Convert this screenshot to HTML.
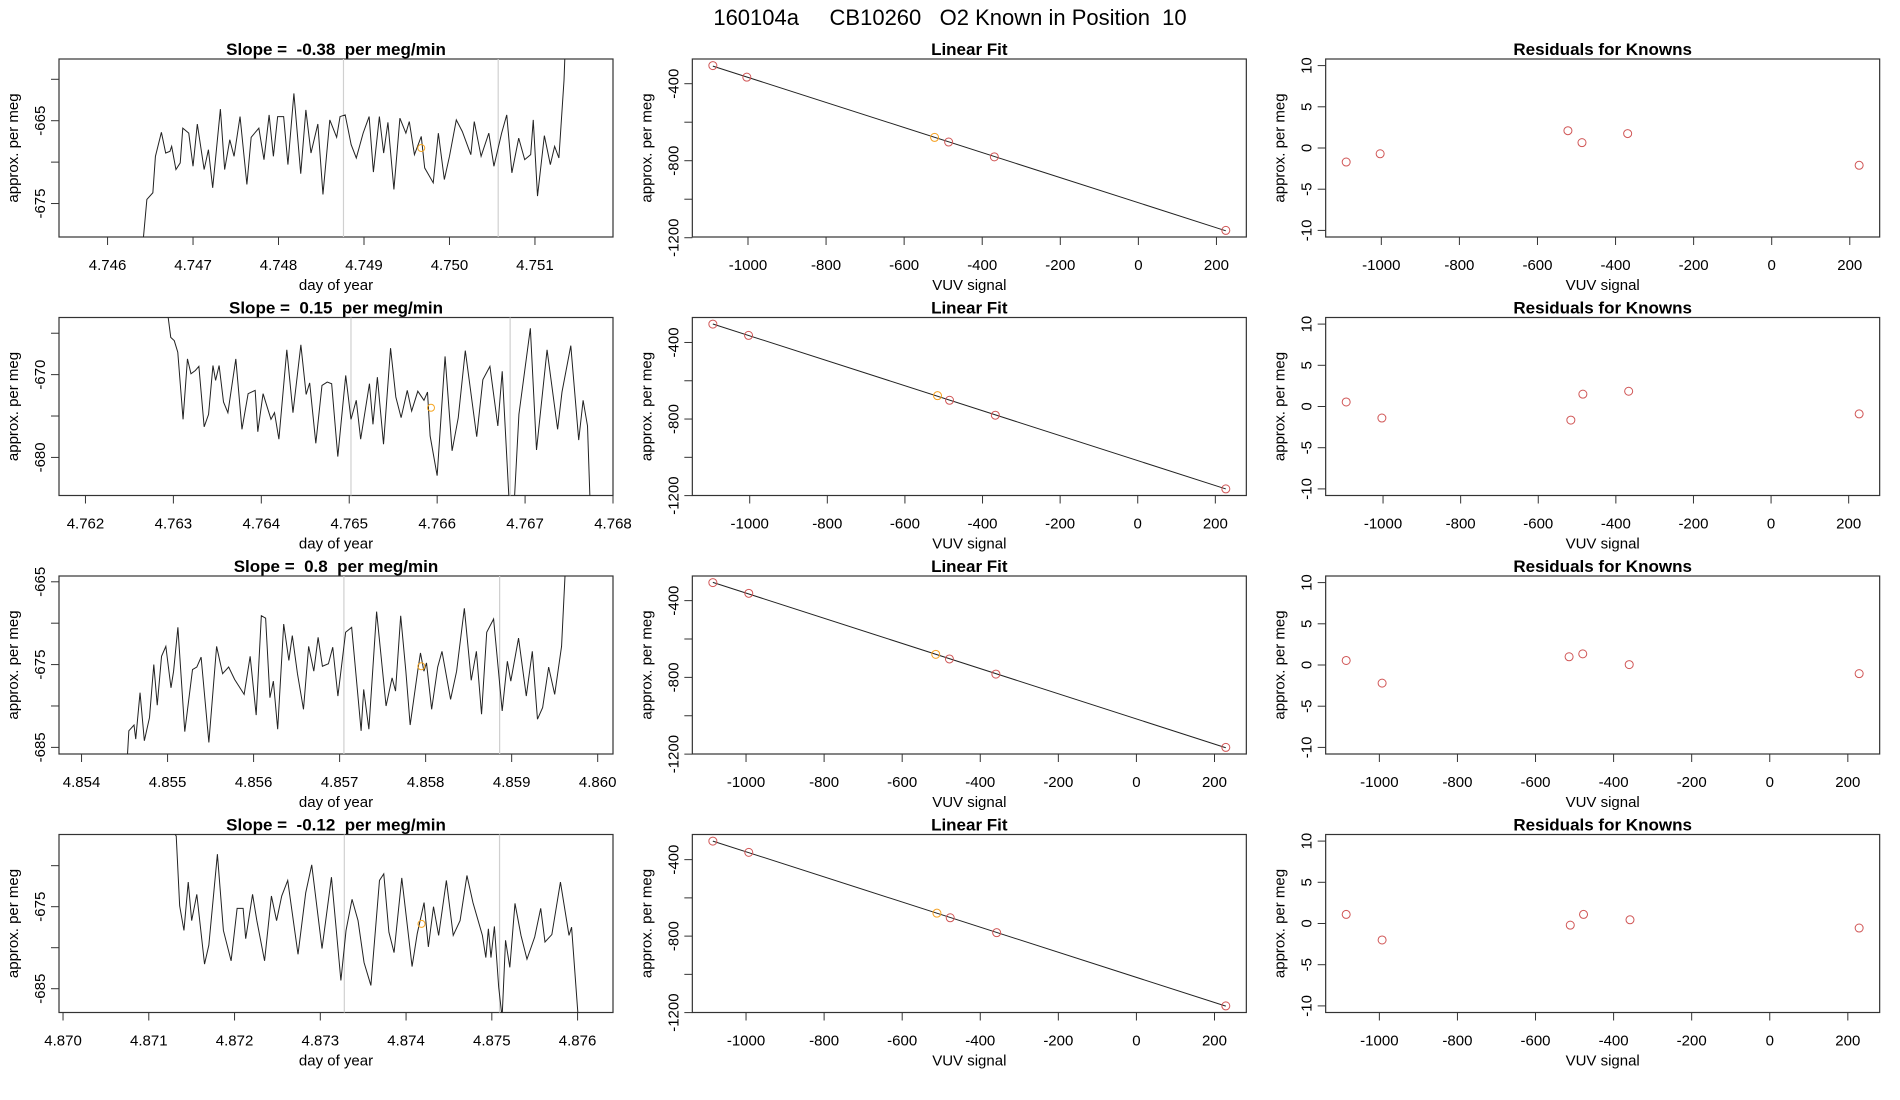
<!DOCTYPE html>
<html><head><meta charset="utf-8">
<style>
html,body{margin:0;padding:0;background:#fff;}
svg{display:block;font-family:"Liberation Sans",Arial,sans-serif;}
svg text{white-space:pre;}
</style></head>
<body>
<svg id="chart" width="1900" height="1100" viewBox="0 0 1900 1100" xmlns="http://www.w3.org/2000/svg" xml:space="preserve">
<text x="950" y="25" text-anchor="middle" font-size="22">160104a     CB10260   O2 Known in Position  10</text>
</svg>
<script>
// ---- Time series data (day of year, per meg) ----
const ts1Day=[4.74641,4.74646,4.74653,4.74656,4.74663,4.74668,4.74673,4.74675,4.74680,4.74685,4.74688,4.74695,4.74700,4.74705,4.74713,4.74718,4.74723,4.74732,4.74737,4.74743,4.74748,4.74755,4.74763,4.74768,4.74777,4.74783,4.74789,4.74794,4.74799,4.74806,4.74811,4.74818,4.74826,4.74832,4.74838,4.74846,4.74852,4.74860,4.74868,4.74872,4.74878,4.74885,4.74891,4.74899,4.74906,4.74911,4.74918,4.74923,4.74928,4.74935,4.74942,4.74949,4.74953,4.74959,4.74967,4.74971,4.74981,4.74987,4.74994,4.75000,4.75008,4.75015,4.75025,4.75029,4.75037,4.75046,4.75052,4.75061,4.75067,4.75073,4.75081,4.75088,4.75095,4.75098,4.75103,4.75111,4.75118,4.75123,4.75128,4.75134,4.75136];
const ts1Val=[-680.2,-674.5,-673.7,-669.3,-666.4,-668.9,-668.7,-668.1,-670.9,-670.1,-665.9,-666.5,-670.5,-665.4,-670.9,-668.5,-673.1,-663.6,-670.9,-667.3,-669.3,-664.5,-672.7,-667.0,-665.9,-669.7,-664.3,-669.3,-664.5,-664.5,-670.3,-661.7,-671.4,-663.7,-668.9,-665.4,-673.9,-664.9,-667.0,-664.5,-664.3,-667.9,-669.5,-666.5,-664.5,-671.2,-664.5,-668.9,-665.2,-673.3,-664.7,-666.5,-665.1,-669.1,-666.9,-670.7,-672.5,-666.5,-672.1,-669.3,-664.9,-666.3,-669.1,-665.1,-669.3,-666.5,-670.5,-666.5,-664.3,-671.3,-667.1,-669.7,-669.1,-664.9,-674.1,-666.8,-670.3,-668.1,-669.5,-660.1,-654.5];
const ts2Day=[4.76293,4.76297,4.76301,4.76305,4.76311,4.76316,4.76320,4.76325,4.76329,4.76335,4.76340,4.76345,4.76348,4.76352,4.76357,4.76362,4.76371,4.76378,4.76385,4.76393,4.76396,4.76402,4.76411,4.76415,4.76420,4.76429,4.76436,4.76445,4.76451,4.76455,4.76462,4.76469,4.76475,4.76480,4.76487,4.76496,4.76502,4.76508,4.76513,4.76523,4.76527,4.76532,4.76539,4.76547,4.76553,4.76559,4.76566,4.76571,4.76578,4.76585,4.76589,4.76592,4.76600,4.76609,4.76617,4.76624,4.76632,4.76645,4.76652,4.76660,4.76669,4.76674,4.76682,4.76688,4.76693,4.76706,4.76713,4.76725,4.76737,4.76742,4.76752,4.76761,4.76766,4.76771,4.76774];
const ts2Val=[-662.2,-665.5,-665.9,-667.3,-675.4,-668.1,-669.9,-669.5,-669.0,-676.3,-674.8,-668.9,-670.7,-668.9,-673.3,-674.6,-668.1,-676.6,-672.3,-671.9,-676.9,-672.3,-675.4,-674.6,-677.8,-667.0,-674.6,-666.4,-672.4,-671.0,-678.3,-671.3,-670.9,-671.1,-679.9,-670.1,-675.4,-673.1,-677.8,-671.1,-676.0,-670.3,-678.4,-666.8,-672.7,-675.2,-671.9,-674.4,-672.0,-673.1,-672.1,-677.4,-682.2,-667.8,-679.2,-675.2,-667.1,-677.5,-670.6,-669.0,-676.2,-669.6,-685.6,-684.8,-674.8,-664.4,-679.1,-667.0,-676.6,-672.1,-666.5,-677.9,-673.1,-676.2,-685.6];
const ts3Day=[4.85453,4.85455,4.85461,4.85463,4.85468,4.85473,4.85479,4.85484,4.85488,4.85493,4.85498,4.85504,4.85507,4.85512,4.85520,4.85529,4.85534,4.85539,4.85548,4.85557,4.85564,4.85571,4.85578,4.85589,4.85596,4.85603,4.85609,4.85614,4.85619,4.85623,4.85628,4.85635,4.85641,4.85645,4.85651,4.85658,4.85664,4.85670,4.85675,4.85680,4.85687,4.85692,4.85698,4.85707,4.85714,4.85725,4.85728,4.85734,4.85743,4.85754,4.85761,4.85765,4.85771,4.85777,4.85782,4.85791,4.85794,4.85798,4.85801,4.85807,4.85814,4.85819,4.85829,4.85836,4.85845,4.85853,4.85859,4.85865,4.85871,4.85879,4.85889,4.85895,4.85899,4.85908,4.85917,4.85924,4.85930,4.85936,4.85943,4.85950,4.85958,4.85962,4.85963];
const ts3Val=[-686.6,-683.0,-682.3,-684.0,-678.4,-684.2,-681.4,-675.0,-679.9,-674.0,-672.8,-677.8,-675.8,-670.5,-683.1,-675.6,-675.3,-674.1,-684.4,-672.8,-676.1,-675.3,-676.8,-678.6,-674.0,-681.1,-669.1,-669.4,-679.0,-677.0,-682.8,-670.1,-674.5,-671.5,-676.1,-680.4,-672.8,-675.8,-671.7,-675.2,-674.9,-672.9,-678.8,-671.1,-670.5,-683.0,-678.0,-682.8,-668.6,-680.0,-676.6,-678.2,-669.1,-675.8,-682.3,-675.6,-673.6,-675.8,-674.8,-680.4,-675.3,-673.4,-679.2,-675.8,-668.2,-676.9,-673.4,-681.0,-671.1,-669.5,-680.6,-674.6,-677.0,-671.8,-678.8,-673.4,-681.6,-680.2,-675.3,-678.6,-672.8,-664.3,-662.5];
const ts4Day=[4.87126,4.87132,4.87136,4.87141,4.87146,4.87150,4.87156,4.87165,4.87170,4.87180,4.87187,4.87196,4.87203,4.87210,4.87213,4.87221,4.87226,4.87235,4.87243,4.87249,4.87255,4.87262,4.87274,4.87283,4.87290,4.87302,4.87313,4.87324,4.87330,4.87337,4.87344,4.87351,4.87359,4.87369,4.87374,4.87380,4.87386,4.87395,4.87407,4.87413,4.87421,4.87426,4.87432,4.87438,4.87447,4.87455,4.87463,4.87471,4.87478,4.87489,4.87493,4.87496,4.87499,4.87503,4.87508,4.87512,4.87516,4.87521,4.87527,4.87534,4.87541,4.87550,4.87557,4.87562,4.87570,4.87580,4.87590,4.87593,4.87601];
const ts4Val=[-665.4,-666.4,-674.9,-677.9,-672.0,-676.7,-673.5,-682.0,-679.7,-668.6,-677.9,-681.6,-675.2,-675.2,-678.9,-673.5,-676.7,-681.6,-673.7,-676.7,-673.7,-671.8,-680.8,-673.3,-669.9,-680.1,-671.4,-684.0,-677.9,-674.1,-676.7,-681.8,-684.6,-671.8,-671.0,-678.1,-680.6,-671.5,-682.3,-678.3,-674.5,-679.9,-675.0,-678.5,-671.8,-678.5,-676.7,-671.2,-674.5,-678.5,-681.2,-677.7,-681.2,-677.4,-684.8,-688.5,-679.1,-682.4,-674.6,-678.5,-681.4,-678.7,-675.2,-679.3,-678.4,-672.0,-678.5,-677.5,-688.9];
// axis ranges and ticks for time series
const tsXlim=[[4.745432,4.751913],[4.761699,4.768000],[4.853738,4.860178],[4.869953,4.876413]];
const tsYlim=[[-679.04,-657.55],[-684.6,-663.1],[-685.8,-664.3],[-687.9,-666.2]];
const tsXticks=[[4.746,4.747,4.748,4.749,4.750,4.751],[4.762,4.763,4.764,4.765,4.766,4.767,4.768],[4.854,4.855,4.856,4.857,4.858,4.859,4.860],[4.870,4.871,4.872,4.873,4.874,4.875,4.876]];
const tsYticks=[[-660,-665,-670,-675],[-665,-670,-675,-680],[-665,-670,-675,-680,-685],[-670,-675,-680,-685]];
const tsYtickLabels=[["","-665","","-675"],["","-670","","-680"],["-665","","-675","","-685"],["","-675","","-685"]];
const tsSlopes=["-0.38","0.15","0.8","-0.12"];
const tsMarkDay=[4.74967,4.76593,4.85795,4.87418];
const tsMarkVal=[-668.3,-674.0,-675.2,-677.1];
const tsGrayA=[4.74876,4.76502,4.85705,4.87328];
const tsGrayB=[4.75057,4.76683,4.85886,4.87509];
// ---- Linear fit data ----
const fitX=[[-1090,-1003,-522,-486,-369,224],[-1095,-1003,-516,-485,-367,227],[-1085,-993,-514,-479,-360,229],[-1085,-993,-511,-477,-358,229]];
const fitY=[[-306,-366,-679,-703,-780,-1162],[-304,-363,-678,-702,-780,-1165],[-306,-362,-680,-704,-783,-1165],[-303,-362,-680,-704,-782,-1165]];
const resid=[[-1.7,-0.7,2.1,0.65,1.75,-2.1],[0.55,-1.4,-1.65,1.5,1.85,-0.9],[0.55,-2.2,1.0,1.35,0.05,-1.05],[1.1,-2.0,-0.2,1.1,0.45,-0.55]];
const orangeIndex=2;
const fitXticks=[-1000,-800,-600,-400,-200,0,200];
const fitYticks=[-400,-600,-800,-1000,-1200];
const fitYtickLabels=["-400","","-800","","-1200"];
const resYticks=[-10,-5,0,5,10];

const NS="http://www.w3.org/2000/svg";
const svg=document.getElementById('chart');
const ROW_TOP=[59,317.5,576,834.5], H=178, COLW=633.333, LM=59, W=554;
function mk(tag,attrs,parent){const e=document.createElementNS(NS,tag);for(const k in attrs)e.setAttribute(k,attrs[k]);(parent||svg).appendChild(e);return e;}
function lin(d0,d1,p0,p1){return v=>p0+(v-d0)/(d1-d0)*(p1-p0);}
function ext(a){let mn=Math.min(...a),mx=Math.max(...a),r=mx-mn;return [mn-0.04*r,mx+0.04*r];}
let clipN=0;
function frame(g,x0,y0){
  const b=mk('rect',{x:x0,y:y0,width:W,height:H,fill:'none',stroke:'#333','stroke-width':1.2},g);
  
  
  const id='clip'+(clipN++);
  const cp=mk('clipPath',{id:id},g);mk('rect',{x:x0,y:y0,width:W,height:H},cp);
  return id;
}
function title(g,txt,x0,y0){
  const t=mk('text',{x:x0+W/2,y:y0-4,'text-anchor':'middle','font-size':17,'font-weight':'bold'},g);
  t.textContent=txt;
  
  
}
function xAxis(g,ticks,labels,sx,x0,y0,lab){
  const by=y0+H;
  ticks.forEach((v,i)=>{
    const x=sx(v);
    const l=mk('line',{x1:x,x2:x,y1:by,y2:by+8,stroke:'#333'},g);
    
    
    const t=mk('text',{x:x,y:by+33,'text-anchor':'middle','font-size':15},g);
    t.textContent=labels[i];
    
    
  });
  const xl=mk('text',{x:x0+W/2,y:by+53,'text-anchor':'middle','font-size':15},g);
  xl.textContent=lab;
  
  
}
function yAxis(g,ticks,labels,sy,x0,y0){
  ticks.forEach((v,i)=>{
    const y=sy(v);
    const l=mk('line',{x1:x0-8,x2:x0,y1:y,y2:y,stroke:'#333'},g);
    
    
    if(labels[i]!==''){
      const t=mk('text',{x:0,y:0,'text-anchor':'middle','font-size':15,transform:`translate(${x0-14},${y}) rotate(-90)`},g);
      t.textContent=labels[i];
      
      
    }
  });
  const yl=mk('text',{x:0,y:0,'text-anchor':'middle','font-size':15,transform:`translate(${x0-41},${y0+H/2}) rotate(-90)`},g);
  yl.textContent='approx. per meg';
  
  
}
const tsDays=[ts1Day,ts2Day,ts3Day,ts4Day], tsVals=[ts1Val,ts2Val,ts3Val,ts4Val];
for(let r=0;r<4;r++){
  const y0=ROW_TOP[r];
  {
    const x0=LM;
    const g=mk('g',{});
    
    
    const sx=lin(tsXlim[r][0],tsXlim[r][1],x0,x0+W), sy=lin(tsYlim[r][0],tsYlim[r][1],y0+H,y0);
    const id=frame(g,x0,y0);
    title(g,'Slope =  '+tsSlopes[r]+'  per meg/min',x0,y0);
    const inner=mk('g',{'clip-path':`url(#${id})`},g);
    [tsGrayA[r],tsGrayB[r]].forEach(d=>{
      const l=mk('line',{x1:sx(d),x2:sx(d),y1:y0,y2:y0+H,stroke:'#d0d0d0','stroke-width':1.2},inner);
      
      
    });
    const pts=tsDays[r].map((d,i)=>sx(d).toFixed(2)+','+sy(tsVals[r][i]).toFixed(2)).join(' ');
    const pl=mk('polyline',{points:pts,fill:'none',stroke:'#222','stroke-width':1},inner);
    
    
    const c=mk('circle',{cx:sx(tsMarkDay[r]),cy:sy(tsMarkVal[r]),r:3.5,fill:'none',stroke:'#f5a623','stroke-width':1},inner);
    
    
    xAxis(g,tsXticks[r],tsXticks[r].map(v=>v.toFixed(3)),sx,x0,y0,'day of year');
    yAxis(g,tsYticks[r],tsYtickLabels[r],sy,x0,y0);
  }
  const xl=ext(fitX[r]);
  {
    const x0=COLW+LM;
    const g=mk('g',{});
    
    
    const yl=ext(fitY[r]);
    const sx=lin(xl[0],xl[1],x0,x0+W), sy=lin(yl[0],yl[1],y0+H,y0);
    const id=frame(g,x0,y0);
    title(g,'Linear Fit',x0,y0);
    const inner=mk('g',{'clip-path':`url(#${id})`},g);
    const xs=fitX[r],ys=fitY[r],n=xs.length;
    const mx=xs.reduce((a,b)=>a+b)/n,my=ys.reduce((a,b)=>a+b)/n;
    let sxy=0,sxx=0;for(let i=0;i<n;i++){sxy+=(xs[i]-mx)*(ys[i]-my);sxx+=(xs[i]-mx)**2;}
    const b=sxy/sxx,a=my-b*mx;
    const xa=Math.min(...xs),xb=Math.max(...xs);
    const fl=mk('line',{x1:sx(xa),y1:sy(a+b*xa),x2:sx(xb),y2:sy(a+b*xb),stroke:'#222','stroke-width':1},inner);
    
    
    xs.forEach((v,i)=>{
      const c=mk('circle',{cx:sx(v),cy:sy(ys[i]),r:4,fill:'none',stroke:i===orangeIndex?'#f5a020':'#d05555','stroke-width':1},inner);
      
      
    });
    xAxis(g,fitXticks,fitXticks.map(String),sx,x0,y0,'VUV signal');
    yAxis(g,fitYticks,fitYtickLabels,sy,x0,y0);
  }
  {
    const x0=2*COLW+LM;
    const g=mk('g',{});
    
    
    const yl=ext([-10,10]);
    const sx=lin(xl[0],xl[1],x0,x0+W), sy=lin(yl[0],yl[1],y0+H,y0);
    const id=frame(g,x0,y0);
    title(g,'Residuals for Knowns',x0,y0);
    const inner=mk('g',{'clip-path':`url(#${id})`},g);
    fitX[r].forEach((v,i)=>{
      const c=mk('circle',{cx:sx(v),cy:sy(resid[r][i]),r:4,fill:'none',stroke:'#d05555','stroke-width':1},inner);
      
      
    });
    xAxis(g,fitXticks,fitXticks.map(String),sx,x0,y0,'VUV signal');
    yAxis(g,resYticks,resYticks.map(String),sy,x0,y0);
  }
}
</script>
</body></html>
